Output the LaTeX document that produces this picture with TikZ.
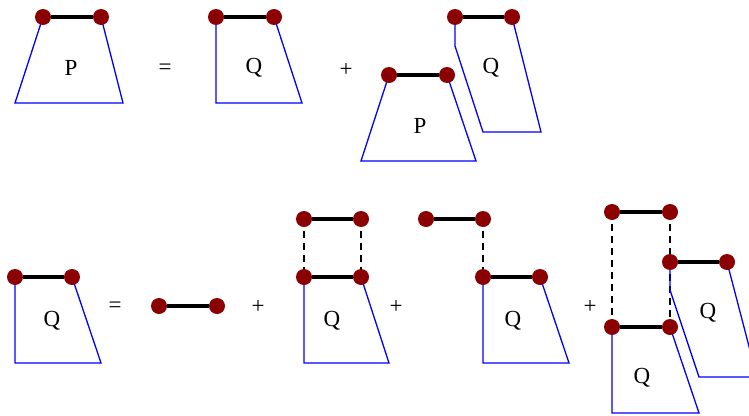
\documentclass[tikz,border=0pt]{standalone}
\usepackage{fontspec}
\setmainfont{Liberation Serif}
\definecolor{dotred}{RGB}{139,0,0}
\pgfdeclarelayer{bg}
\pgfsetlayers{bg,main}
\begin{document}
\begin{tikzpicture}[x=1pt,y=-1pt,
 dot/.style={circle,fill=dotred,minimum size=16pt,inner sep=0pt},
 bar/.style={line width=3.8pt,black},
 edge/.style={blue,line width=1.3pt,line join=miter},
 link/.style={black,line width=1.1pt,dash pattern=on 7pt off 5pt},
 lbl/.style={font=\fontsize{23}{27}\selectfont,inner sep=0pt}]
\useasboundingbox (0,0) rectangle (749,415);
\clip (0,0) rectangle (749,415);
% ---- top row ----
\node[dot] (pa) at (43,17) {};
\node[dot] (pb) at (101,17) {};
\node[lbl] (pl) at (71,68) {P};
\node[lbl] (eq1) at (165,69) {=};
\node[dot] (qa) at (216,17) {};
\node[dot] (qb) at (274,17) {};
\node[lbl] (ql) at (254,68) {Q};
\node[lbl] (pl1) at (346,70) {+};
\node[dot] (ra) at (455,17) {};
\node[dot] (rb) at (512,17) {};
\node[lbl] (rl) at (491,68) {Q};
\node[dot] (sa) at (389,75) {};
\node[dot] (sb) at (447,75) {};
\node[lbl] (sl) at (420,126) {P};
% ---- bottom row ----
\node[dot] (a) at (15,277) {};
\node[dot] (b) at (72,277) {};
\node[lbl] (al) at (52,321) {Q};
\node[lbl] (eq2) at (115,307) {=};
\node[dot] (c) at (159,306) {};
\node[dot] (d) at (217,306) {};
\node[lbl] (pl2) at (258,307) {+};
\node[dot] (e1) at (304,219) {};
\node[dot] (e2) at (361,219) {};
\node[dot] (f1) at (304,277) {};
\node[dot] (f2) at (361,277) {};
\node[lbl] (fl) at (332,321) {Q};
\node[lbl] (pl3) at (396,307) {+};
\node[dot] (g1) at (426,219) {};
\node[dot] (g2) at (483,219) {};
\node[dot] (h1) at (483,277) {};
\node[dot] (h2) at (540,277) {};
\node[lbl] (hl) at (513,321) {Q};
\node[lbl] (pl4) at (590,307) {+};
\node[dot] (k1) at (612,212) {};
\node[dot] (k2) at (670,212) {};
\node[dot] (m1) at (670,262) {};
\node[dot] (m2) at (727,262) {};
\node[dot] (n1) at (612,327) {};
\node[dot] (n2) at (670,327) {};
\node[lbl] (ml) at (708,313) {Q};
\node[lbl] (nl) at (642,378) {Q};
\begin{pgfonlayer}{bg}
% dashed links
\draw[link] (e1.center) -- (f1.center);
\draw[link] (e2.center) -- (f2.center);
\draw[link] (g2.center) -- (h1.center);
\draw[link] (k1.center) -- (n1.center);
\draw[link] (k2.center) -- (m1.center);
\draw[link] (m1.center) -- (n2.center);
% blue outlines
\draw[edge] (pa.center) -- (15,103) -- (123,103) -- (pb.center);
\draw[edge] (qa.center) -- (216,103) -- (302,103) -- (qb.center);
\draw[edge] (ra.center) -- (455,46) -- (483,132) -- (541,132) -- (rb.center);
\draw[edge] (sa.center) -- (361,161) -- (476,161) -- (sb.center);
\draw[edge] (a.center) -- (15,363) -- (101,363) -- (b.center);
\draw[edge] (f1.center) -- (304,363) -- (389,363) -- (f2.center);
\draw[edge] (h1.center) -- (483,363) -- (569,363) -- (h2.center);
\draw[edge] (m1.center) -- (670,290) -- (699,377) -- (757,377) -- (m2.center);
\draw[edge] (n1.center) -- (612,413) -- (699,413) -- (n2.center);
% black bars
\draw[bar] (pa) -- (pb);
\draw[bar] (qa) -- (qb);
\draw[bar] (ra) -- (rb);
\draw[bar] (sa) -- (sb);
\draw[bar] (a) -- (b);
\draw[bar] (c) -- (d);
\draw[bar] (e1) -- (e2);
\draw[bar] (f1) -- (f2);
\draw[bar] (g1) -- (g2);
\draw[bar] (h1) -- (h2);
\draw[bar] (k1) -- (k2);
\draw[bar] (m1) -- (m2);
\draw[bar] (n1) -- (n2);
\end{pgfonlayer}
\end{tikzpicture}
\end{document}
